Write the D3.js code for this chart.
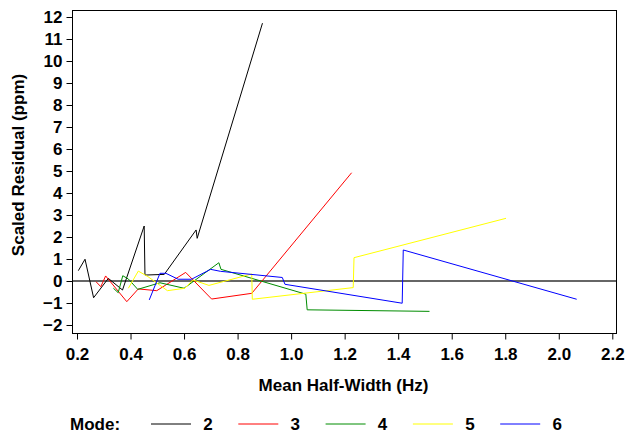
<!DOCTYPE html>
<html><head><meta charset="utf-8">
<script src="https://cdn.jsdelivr.net/npm/d3@7"></script>
<style>body{margin:0;background:#fff}svg{display:block}text{font-family:"Liberation Sans",Arial,sans-serif;font-weight:bold;fill:#000}</style>
</head><body><svg id="c" width="626" height="434"></svg>
<script>
const modes = ["2","3","4","5","6"];
const colors = ["#000000","#ff0000","#008c00","#ffff00","#0000ff"];
const mode2X = [0.205,0.230,0.262,0.317,0.370,0.451,0.454,0.526,0.645,0.649,0.893];
const mode2Y = [0.47,0.99,-0.76,0.12,-0.41,2.50,0.27,0.30,2.32,1.94,11.72];
const mode3X = [0.271,0.289,0.307,0.386,0.429,0.498,0.606,0.703,0.853,1.226];
const mode3Y = [-0.03,-0.26,0.23,-0.94,-0.36,-0.44,0.39,-0.82,-0.56,4.92];
const mode4X = [0.336,0.354,0.371,0.392,0.427,0.510,0.600,0.730,0.738,1.055,1.060,1.517];
const mode4Y = [-0.33,-0.53,0.24,0.09,-0.38,-0.08,-0.33,0.83,0.53,-0.60,-1.31,-1.38];
const mode5X = [0.392,0.429,0.465,0.538,0.603,0.633,0.693,0.853,0.855,1.232,1.235,1.803];
const mode5Y = [-0.33,0.45,0.20,-0.44,-0.33,0.05,-0.20,0.32,-0.83,-0.30,1.06,2.85];
const mode6X = [0.470,0.510,0.532,0.578,0.628,0.699,0.736,0.967,0.977,1.415,1.419,2.067];
const mode6Y = [-0.86,0.35,0.35,0.08,0.08,0.53,0.44,0.16,-0.15,-1.01,1.41,-0.83];
const xTicks = [0.2,0.4,0.6,0.8,1.0,1.2,1.4,1.6,1.8,2.0,2.2];
const yTicks = [-2,-1,0,1,2,3,4,5,6,7,8,9,10,11,12];

const seriesX = [mode2X,mode3X,mode4X,mode5X,mode6X];
const seriesY = [mode2Y,mode3Y,mode4Y,mode5Y,mode6Y];

const svg = d3.select("#c");
const L=72,R=617,T=10,B=333;
const FS = "17px";
const x = d3.scaleLinear().domain([0.2,2.2]).range([77,612.3]);
const y = d3.scaleLinear().domain([0,12]).range([281,17]);

// zero line
svg.append("line").attr("x1",L).attr("x2",R).attr("y1",y(0)).attr("y2",y(0))
  .attr("stroke","#333").attr("stroke-width",1.5);

const line = d3.line().x(d=>x(d[0])).y(d=>y(d[1]));
seriesX.forEach((xs,i)=>{
  const pts = xs.map((v,j)=>[v,seriesY[i][j]]);
  svg.append("path").attr("d",line(pts)).attr("fill","none")
    .attr("stroke",colors[i]).attr("stroke-width",1);
});

// frame
svg.append("rect").attr("x",L+0.5).attr("y",T+0.5).attr("width",R-L-1).attr("height",B-T)
  .attr("fill","none").attr("stroke","#000").attr("stroke-width",1);

// axes
const xAxis = d3.axisBottom(x).tickValues(xTicks).tickFormat(d3.format(".1f")).tickSize(6).tickPadding(8);
const gx = svg.append("g").attr("transform",`translate(0,${B+0.5})`).call(xAxis);
gx.select(".domain").remove();
gx.selectAll("text").style("font-size",FS).style("font-family","Liberation Sans, Arial").style("font-weight","bold");
gx.selectAll("line").attr("stroke","#000");

const yAxis = d3.axisLeft(y).tickValues(yTicks).tickFormat(d3.format("d")).tickSize(6).tickPadding(4);
const gy = svg.append("g").attr("transform",`translate(${L+0.5},0)`).call(yAxis);
gy.select(".domain").remove();
gy.selectAll("text").style("font-size",FS).style("font-family","Liberation Sans, Arial").style("font-weight","bold");
gy.selectAll("line").attr("stroke","#000");

// titles
svg.append("text").attr("x",(L+R)/2 - 1).attr("y",391).attr("text-anchor","middle")
  .style("font-size",FS).text("Mean Half-Width (Hz)");
svg.append("text").attr("transform","translate(24,165) rotate(-90)").attr("text-anchor","middle")
  .style("font-size",FS).text("Scaled Residual (ppm)");

// legend
const ly = 424;
svg.append("text").attr("x",70).attr("y",ly+6).style("font-size",FS).text("Mode:");
modes.forEach((m,i)=>{
  const x0 = 151 + i*87.3;
  svg.append("line").attr("x1",x0).attr("x2",x0+40).attr("y1",ly).attr("y2",ly)
    .attr("stroke",colors[i]).attr("stroke-width",1);
  svg.append("text").attr("x",x0+57).attr("y",ly+6).attr("text-anchor","middle")
    .style("font-size",FS).text(m);
});
</script></body></html>
